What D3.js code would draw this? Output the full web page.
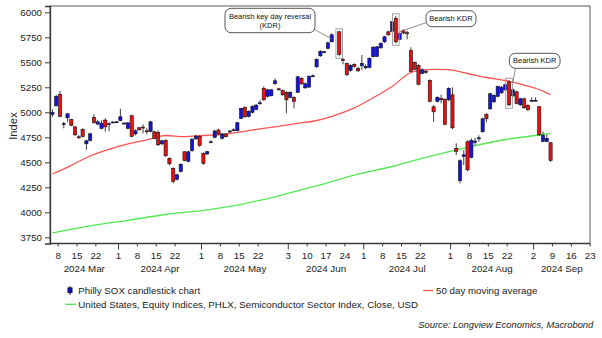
<!DOCTYPE html>
<html>
<head>
<meta charset="utf-8">
<script src="https://cdn.jsdelivr.net/npm/d3@7"></script>
<style>
  html, body { margin: 0; padding: 0; background: #fff; }
  svg { display: block; font-family: "Liberation Sans", Arial, sans-serif; }
</style>
</head>
<body>
<svg id="chart" width="602" height="338"></svg>
<script>
// ---- Daily OHLC, Philadelphia Semiconductor Index (SOX), 2024 ----
const dates = [
  "03-06","03-07","03-08","03-11","03-12","03-13","03-14","03-15","03-18","03-19",
  "03-20","03-21","03-22","03-25","03-26","03-27","03-28","03-29","04-01","04-02",
  "04-03","04-04","04-05","04-08","04-09","04-10","04-11","04-12","04-15","04-16",
  "04-17","04-18","04-19","04-22","04-23","04-24","04-25","04-26","04-29","04-30",
  "05-01","05-02","05-03","05-06","05-07","05-08","05-09","05-10","05-13","05-14",
  "05-15","05-16","05-17","05-20","05-21","05-22","05-23","05-24","05-27","05-28",
  "05-29","05-30","05-31","06-03","06-04","06-05","06-06","06-07","06-10","06-11",
  "06-12","06-13","06-14","06-17","06-18","06-20","06-21","06-24","06-25","06-26",
  "06-27","06-28","07-01","07-02","07-03","07-04","07-05","07-08","07-09","07-10",
  "07-11","07-12","07-15","07-16","07-17","07-18","07-19","07-22","07-23","07-24",
  "07-25","07-26","07-29","07-30","07-31","08-01","08-02","08-05","08-06","08-07",
  "08-08","08-09","08-12","08-13","08-14","08-15","08-16","08-19","08-20","08-21",
  "08-22","08-23","08-26","08-27","08-28","08-29","08-30","09-02","09-03","09-04",
  "09-05","09-06"
];
const open = [
  4980,5065,5180,4880,4945,4930,4855,4755,4830,4685,
  4718,4950,4882,4840,4922,4880,4896,4900,4918,4885,
  4840,4966,4785,4845,4852,4815,4808,4805,4800,4685,
  4720,4540,4440,4330,4408,4605,4510,4618,4735,4760,
  4590,4583,4700,4750,4823,4740,4783,4805,4818,4816,
  4940,5050,4960,5000,5030,5088,5240,5160,5165,5285,
  5235,5220,5200,5150,5150,5200,5340,5245,5252,5358,
  5455,5565,5600,5640,5705,5805,5530,5490,5420,5480,
  5440,5465,5445,5450,5556,5560,5645,5705,5805,5810,
  5940,5730,5815,5795,5620,5500,5470,5390,5410,5320,
  5055,5110,5140,5130,5125,5175,4640,4316,4560,4705,
  4550,4700,4735,4806,4980,5035,5105,5160,5195,5225,
  5305,5165,5205,5075,5135,5070,5115,5115,5056,4710,
  4708,4696
];
const high = [
  5030,5175,5215,4905,4990,4935,4860,4770,4840,4725,
  4795,4980,4925,4920,4940,4900,4910,4912,5035,4900,
  4900,4975,4830,4855,4880,4840,4915,4815,4820,4725,
  4730,4550,4450,4385,4490,4610,4615,4740,4775,4770,
  4600,4615,4720,4825,4835,4795,4790,4825,4840,4905,
  5045,5060,5020,5070,5080,5120,5260,5235,5230,5340,
  5245,5228,5210,5210,5160,5365,5350,5300,5370,5380,
  5540,5620,5615,5705,5790,5815,5545,5495,5480,5490,
  5455,5573,5480,5550,5665,5662,5700,5765,5815,5915,
  5965,5800,5830,5815,5650,5510,5480,5440,5425,5330,
  5070,5160,5175,5140,5250,5250,4690,4530,4623,4720,
  4740,4745,4770,4945,4990,5195,5180,5265,5265,5290,
  5320,5240,5215,5145,5145,5080,5150,5150,5060,4806,
  4775,4700
];
const low = [
  4955,5060,4950,4840,4905,4860,4765,4735,4750,4625,
  4710,4890,4870,4830,4806,4810,4890,4895,4910,4878,
  4830,4750,4770,4815,4790,4780,4800,4730,4665,4670,
  4555,4470,4290,4320,4400,4510,4500,4605,4725,4655,
  4475,4575,4690,4740,4775,4730,4750,4795,4810,4810,
  4930,4945,4950,4990,5020,5075,5115,5150,5160,5278,
  5215,5165,4990,5140,5040,5195,5275,5235,5245,5350,
  5445,5555,5590,5630,5700,5560,5480,5365,5405,5445,
  5405,5425,5430,5440,5550,5555,5635,5695,5765,5800,
  5690,5720,5780,5730,5400,5420,5270,5380,5385,5100,
  4905,5100,5090,4870,5110,4830,4573,4290,4473,4410,
  4540,4670,4705,4795,4900,5025,5095,5150,5185,5210,
  5060,5150,5080,5065,5035,5015,5105,5110,4765,4700,
  4700,4505
];
const close = [
  4998,5160,4958,4886,4985,4870,4775,4745,4758,4715,
  4785,4895,4905,4890,4855,4886,4903,4905,4955,4892,
  4895,4760,4815,4825,4845,4811,4905,4740,4675,4715,
  4565,4485,4310,4375,4480,4518,4605,4732,4762,4668,
  4490,4606,4706,4813,4783,4783,4756,4812,4825,4896,
  5040,4955,5010,5060,5072,5095,5125,5225,5225,5315,
  5228,5175,5125,5200,5108,5355,5285,5285,5360,5365,
  5530,5610,5606,5695,5775,5580,5520,5375,5470,5458,
  5415,5490,5460,5540,5650,5655,5690,5755,5775,5905,
  5705,5790,5795,5790,5410,5430,5280,5425,5400,5110,
  5005,5150,5125,4880,5240,4845,4610,4516,4575,4425,
  4720,4712,4745,4935,4935,5185,5170,5260,5250,5275,
  5075,5225,5090,5135,5045,5025,5120,5120,4775,4770,
  4740,4518
];

// ---- 50 day moving average ----
const maDates  = ["03-06","03-13","03-20","03-27","04-03","04-10","04-17","04-24","05-01","05-08",
                  "05-15","05-22","05-29","06-05","06-12","06-20","06-26","07-03","07-10","07-17",
                  "07-22","07-25","07-31","08-07","08-14","08-21","08-28","09-04","09-06"];
const maValues = [4383,4470,4563,4630,4685,4725,4768,4757,4768,4778,
                  4805,4834,4860,4890,4918,4985,5045,5145,5258,5398,
                  5420,5430,5426,5388,5348,5318,5272,5212,5175];

// ---- Semiconductor Sector Index, Close (green line) ----
const longDates  = ["03-06","03-20","04-03","04-17","05-01","05-15","05-29","06-12","06-26","07-10",
                    "07-24","08-07","08-21","09-04","09-06"];
const longValues = [3795,3865,3920,3978,4020,4080,4165,4265,4372,4458,
                    4560,4650,4728,4778,4790];

// ---- Axis labels ----
const yTicks = [3750,4000,4250,4500,4750,5000,5250,5500,5750,6000];
const weekTicks = ["03-08","03-15","03-22","04-01","04-08","04-15","04-22","05-01","05-08","05-15",
                   "05-22","06-03","06-10","06-17","06-24","07-01","07-08","07-15","07-22","08-01",
                   "08-08","08-15","08-22","09-02","09-09","09-16","09-23"];
const monthStarts = ["04-01","05-01","06-03","07-01","08-01","09-02"];
const monthLabels = ["2024 Mar","2024 Apr","2024 May","2024 Jun","2024 Jul","2024 Aug","2024 Sep"];

// ---- Call-outs: highlighted session, label lines, label box centre, leader end ----
const callouts = [
  { date: "06-20", lines: ["Bearish key day reversal", "(KDR)"], box: [270, 20.5, 90, 24.4], tip: ["06-18", 5735] },
  { date: "07-11", lines: ["Bearish KDR"], box: [451, 18.7, 50, 16], tip: ["07-12", 5805] },
  { date: "08-22", lines: ["Bearish KDR"], box: [534.7, 60.8, 50.7, 15], tip: ["08-23", 5290] }
];

// ---- Scales ----
const P = { left: 50, right: 590, top: 6, bottom: 243.5 };
const parse = d3.timeParse("%Y-%m-%d");
const day0 = parse("2024-03-06");
// position on a weekday (Mon-Fri) axis
function weekdayIndex(s) {
  const d = parse("2024-" + s);
  let n = 0;
  const t = new Date(day0);
  while (t < d) {
    const w = t.getDay();
    if (w > 0 && w < 6) n++;
    t.setDate(t.getDate() + 1);
  }
  return n;
}
const x = d3.scaleLinear().domain([-0.65, 142.45]).range([P.left, P.right]);
const y = d3.scaleLinear().domain([3688, 6063]).range([P.bottom, P.top]);

const svg = d3.select("#chart");
const axisColor = "#3a3a3a";
const BLUE = "#1414e0", RED = "#ee1010";

svg.append("defs").append("clipPath").attr("id", "plot")
  .append("rect").attr("x", P.left).attr("y", P.top)
  .attr("width", P.right - P.left).attr("height", P.bottom - P.top);

// frame
svg.append("rect").attr("x", P.left).attr("y", P.top)
  .attr("width", P.right - P.left).attr("height", P.bottom - P.top)
  .attr("fill", "none").attr("stroke", "#5a5a5a").attr("stroke-width", 1);

// y axis
const yAxis = d3.axisLeft(y).tickValues(yTicks).tickSize(5).tickPadding(3).tickFormat(d3.format("d"));
const yg = svg.append("g").attr("transform", `translate(${P.left},0)`).call(yAxis);
yg.select(".domain").attr("stroke", axisColor).attr("stroke-width", 1.3);
yg.selectAll(".tick line").attr("stroke", axisColor);
yg.selectAll(".tick text").attr("font-size", 9.75).attr("fill", "#222")
  .attr("font-family", "Liberation Sans, Arial, sans-serif");

svg.append("text").attr("transform", "translate(16.5,126) rotate(-90)")
  .attr("text-anchor", "middle").attr("font-size", 11.25).attr("fill", "#222").text("Index");

// x axis (ticks sit on the boundary before each labelled session)
const tickX = s => x(weekdayIndex(s) - 0.5);
const xg = svg.append("g");
xg.append("line").attr("x1", P.left).attr("x2", P.right).attr("y1", P.bottom).attr("y2", P.bottom)
  .attr("stroke", axisColor).attr("stroke-width", 1.3);
xg.selectAll("line.t").data(weekTicks).join("line").attr("class", "t")
  .attr("x1", tickX).attr("x2", tickX)
  .attr("y1", P.bottom)
  .attr("y2", d => P.bottom + (monthStarts.includes(d) ? 6 : 3))
  .attr("stroke", axisColor).attr("stroke-width", 1);
xg.selectAll("text.d").data(weekTicks).join("text").attr("class", "d")
  .attr("x", tickX).attr("y", 259.3).attr("text-anchor", "middle")
  .attr("font-size", 9.75).attr("fill", "#222")
  .text(d => +d.slice(3));
const bounds = [P.left, ...monthStarts.map(tickX), P.right];
xg.selectAll("text.m").data(monthLabels).join("text").attr("class", "m")
  .attr("x", (d, k) => (bounds[k] + bounds[k + 1]) / 2).attr("y", 272)
  .attr("text-anchor", "middle").attr("font-size", 9.75).attr("fill", "#222").text(d => d);

// lines
const plot = svg.append("g").attr("clip-path", "url(#plot)");
const line = d3.line().x(d => x(weekdayIndex(d[0]))).y(d => y(d[1])).curve(d3.curveMonotoneX);
plot.append("path").datum(longDates.map((d, k) => [d, longValues[k]]))
  .attr("d", line).attr("fill", "none").attr("stroke", "#52e852").attr("stroke-width", 1.3);
plot.append("path").datum(maDates.map((d, k) => [d, maValues[k]]))
  .attr("d", line).attr("fill", "none").attr("stroke", "#ff5252").attr("stroke-width", 1.3);

// candles
const candles = dates.map((s, k) => ({ s, i: weekdayIndex(s), o: open[k], h: high[k], l: low[k], c: close[k] }));
const bw = 3.2;
plot.selectAll("line.wick").data(candles).join("line").attr("class", "wick")
  .attr("x1", d => x(d.i)).attr("x2", d => x(d.i))
  .attr("y1", d => y(d.h)).attr("y2", d => y(d.l))
  .attr("stroke", "#2a2a2a").attr("stroke-width", 0.9);
plot.selectAll("rect.body").data(candles).join("rect").attr("class", "body")
  .attr("x", d => x(d.i) - bw / 2)
  .attr("y", d => y(Math.max(d.o, d.c)))
  .attr("width", bw)
  .attr("height", d => Math.max(0.9, Math.abs(y(d.o) - y(d.c))))
  .attr("fill", d => d.c >= d.o ? BLUE : RED)
  .attr("stroke", "#111").attr("stroke-width", 0.6);

// call-outs
const byDate = new Map(candles.map(d => [d.s, d]));
callouts.forEach(c => {
  const d = byDate.get(c.date);
  svg.append("rect")
    .attr("x", x(d.i) - 3.3).attr("y", y(d.h) - 2)
    .attr("width", 6.6).attr("height", y(d.l) - y(d.h) + 4)
    .attr("fill", "none").attr("stroke", "#9a9a9a").attr("stroke-width", 0.9);
  const [cx, cy, w, h] = c.box;
  // leader from nearest box edge to the tip
  const tx = x(weekdayIndex(c.tip[0])), ty = y(c.tip[1]);
  let sx, sy;
  if (tx < cx - w / 2) { sx = cx - w / 2; sy = Math.min(Math.max(ty, cy - h / 2 + 4), cy + h / 2 - 4); }
  else { sx = Math.min(Math.max(tx, cx - w / 2 + 6), cx + w / 2 - 6); sy = cy + h / 2; }
  if (c.lines.length > 1) { sx = cx + w / 2 - 2; sy = cy + h / 2 - 4; }
  svg.append("line").attr("x1", sx).attr("y1", sy).attr("x2", tx).attr("y2", ty)
    .attr("stroke", "#707070").attr("stroke-width", 0.8);
  svg.append("rect").attr("x", cx - w / 2).attr("y", cy - h / 2).attr("width", w).attr("height", h)
    .attr("rx", 6).attr("ry", 6).attr("fill", "#fff").attr("stroke", "#444").attr("stroke-width", 0.9);
  const t = svg.append("text").attr("text-anchor", "middle").attr("font-size", 7.5).attr("fill", "#111");
  const n = c.lines.length;
  c.lines.forEach((ln, k) => {
    t.append("tspan").attr("x", cx).attr("y", cy + 2.6 + (k - (n - 1) / 2) * 9).text(ln);
  });
});

// legend
const lg = svg.append("g");
lg.append("line").attr("x1", 70).attr("x2", 70).attr("y1", 286).attr("y2", 295)
  .attr("stroke", "#222").attr("stroke-width", 0.9);
lg.append("rect").attr("x", 67.9).attr("y", 287.8).attr("width", 4.2).attr("height", 5)
  .attr("fill", "#1010d0").attr("stroke", "#111").attr("stroke-width", 0.7);
lg.append("text").attr("x", 78.3).attr("y", 293.6).attr("font-size", 9.75).attr("fill", "#222")
  .text("Philly SOX candlestick chart");
lg.append("line").attr("x1", 423.3).attr("x2", 433.3).attr("y1", 290.5).attr("y2", 290.5)
  .attr("stroke", "#ff5252").attr("stroke-width", 1.3);
lg.append("text").attr("x", 436).attr("y", 293.6).attr("font-size", 9.75).attr("fill", "#222")
  .text("50 day moving average");
lg.append("line").attr("x1", 65).attr("x2", 76).attr("y1", 304.3).attr("y2", 304.3)
  .attr("stroke", "#52e852").attr("stroke-width", 1.3);
lg.append("text").attr("x", 78.3).attr("y", 307.6).attr("font-size", 9.75).attr("fill", "#222")
  .text("United States, Equity Indices, PHLX, Semiconductor Sector Index, Close, USD");

svg.append("text").attr("x", 593.3).attr("y", 327.5).attr("text-anchor", "end")
  .attr("font-size", 9.4).attr("font-style", "italic").attr("fill", "#222")
  .text("Source: Longview Economics, Macrobond");
</script>
</body>
</html>
